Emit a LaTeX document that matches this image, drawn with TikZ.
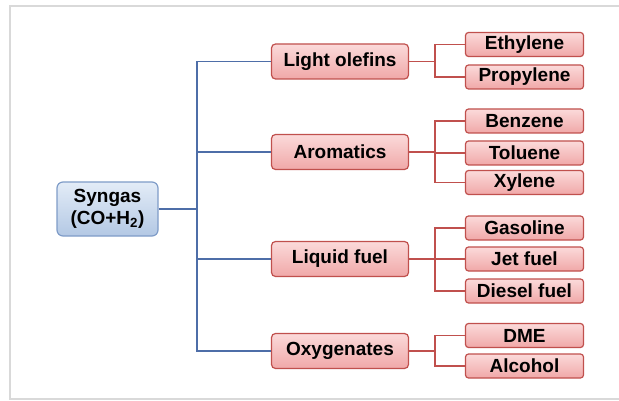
\documentclass[tikz,border=0pt]{standalone}
\usepackage{fontspec}
\setmainfont{Liberation Sans}
\usetikzlibrary{positioning}
\definecolor{pinkline}{HTML}{C0504D}
\definecolor{pinktop}{HTML}{FBDADA}
\definecolor{pinkbot}{HTML}{F0A8A8}
\definecolor{bluetop}{HTML}{E3ECF7}
\definecolor{bluebot}{HTML}{B3C8E4}
\definecolor{blueedge}{HTML}{7F9CC8}
\definecolor{trunkblue}{HTML}{4E6EA8}

\begin{document}
\begin{tikzpicture}[x=1pt,y=-1pt,
    every node/.style={font=\fontsize{19}{22}\selectfont\bfseries},
    midbox/.style={draw=pinkline,line width=1.2pt,rounded corners=4pt,top color=pinktop,bottom color=pinkbot,minimum width=137pt,minimum height=35pt,inner sep=0pt},
    subbox/.style={draw=pinkline,line width=1.2pt,rounded corners=3pt,top color=pinktop,bottom color=pinkbot,minimum width=118pt,minimum height=24pt,inner sep=0pt},
    bluebox/.style={draw=blueedge,line width=1.2pt,rounded corners=6pt,top color=bluetop,bottom color=bluebot,minimum width=101pt,minimum height=54pt,inner sep=0pt,align=center},
    blueline/.style={draw=trunkblue,line width=1.6pt},
    redline/.style={draw=pinkline,line width=1.4pt}]
    \useasboundingbox (0,0) rectangle (619,401);
    \draw[black!15,line width=1.5pt] (10,6) rectangle (630,399);
    \node[bluebox] (syn) at (107.5,209) {Syngas\\(CO+H\textsubscript{2})};
    \node[midbox] (lo) at (340,61.5) {Light olefins};
    \node[midbox] (ar) at (340,152) {Aromatics};
    \node[midbox] (lf) at (340,259) {Liquid fuel};
    \node[midbox] (ox) at (340,351) {Oxygenates};
    \node[subbox] (eth) at (524.5,44.5) {Ethylene};
    \node[subbox] (pro) at (524.5,77) {Propylene};
    \node[subbox] (ben) at (524.5,121) {Benzene};
    \node[subbox] (tol) at (524.5,153) {Toluene};
    \node[subbox] (xyl) at (524.5,182.5) {Xylene};
    \node[subbox] (gas) at (524.5,228) {Gasoline};
    \node[subbox] (jet) at (524.5,259) {Jet fuel};
    \node[subbox] (die) at (524.5,291) {Diesel fuel};
    \node[subbox] (dme) at (524.5,335.5) {DME};
    \node[subbox] (alc) at (524.5,366) {Alcohol};
    \coordinate (tx) at (197,209);
    \coordinate (rx) at (435,0);
    % blue trunk
    \draw[blueline] (syn.east) -- (tx);
    \draw[blueline] (lo.west) -| (tx) |- (ox.west);
    \draw[blueline] (ar.west) -- (ar.west -| tx);
    \draw[blueline] (lf.west) -- (lf.west -| tx);
    % red branches
    \draw[redline] (lo.east) -- (lo.east -| rx);
    \draw[redline] (eth.west) -- (eth.west -| rx) -- (pro.west -| rx) -- (pro.west);
    \draw[redline] (ar.east) -- (ar.east -| rx);
    \draw[redline] (ben.west) -- (ben.west -| rx) -- (xyl.west -| rx) -- (xyl.west);
    \draw[redline] (tol.west) -- (tol.west -| rx);
    \draw[redline] (lf.east) -- (lf.east -| rx);
    \draw[redline] (gas.west) -- (gas.west -| rx) -- (die.west -| rx) -- (die.west);
    \draw[redline] (jet.west) -- (jet.west -| rx);
    \draw[redline] (ox.east) -- (ox.east -| rx);
    \draw[redline] (dme.west) -- (dme.west -| rx) -- (alc.west -| rx) -- (alc.west);
\end{tikzpicture}
\end{document}
